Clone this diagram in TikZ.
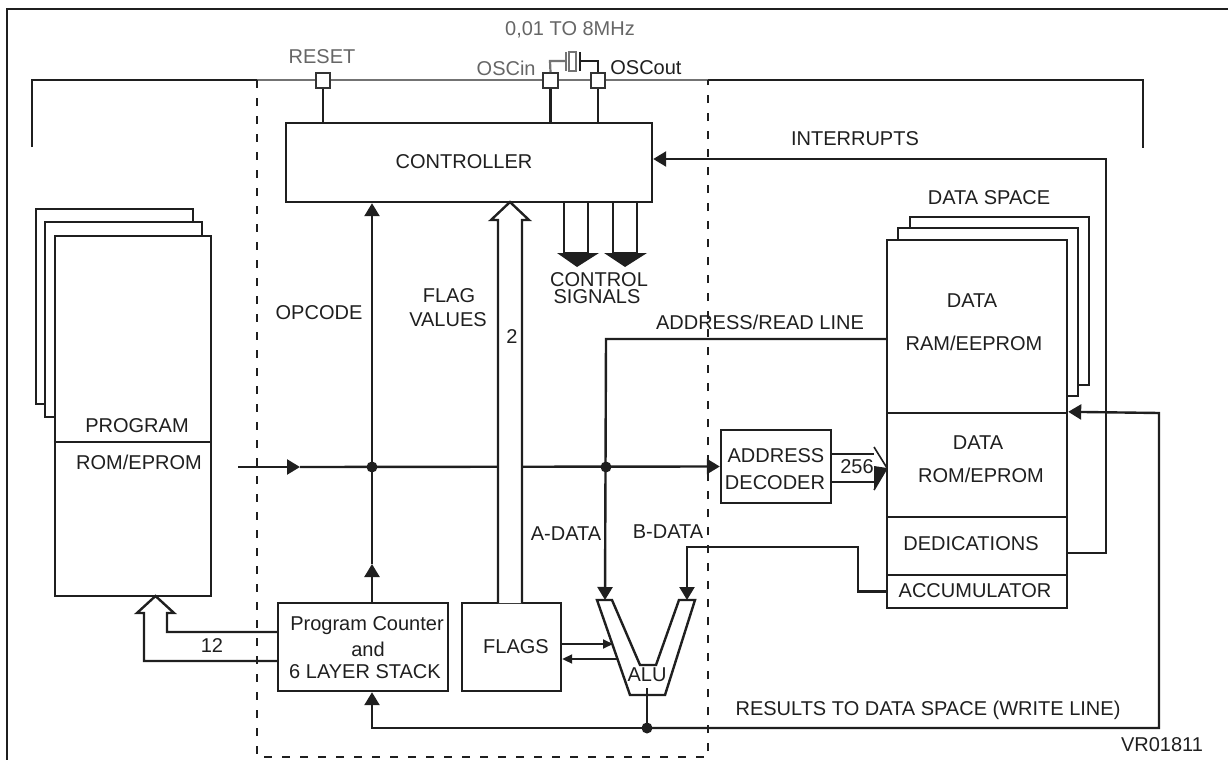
\documentclass[tikz,border=0pt]{standalone}
\usepackage{fontspec}
\setmainfont{Liberation Sans}
\usetikzlibrary{arrows.meta,fit,calc}
\begin{document}
\begin{tikzpicture}[x=0.5pt,y=-0.5pt,
  every node/.style={font=\fontsize{10}{11}\selectfont, inner sep=0pt, text=black!88},
  ln/.style={line width=1.2pt, draw=black!88},
  box/.style={draw=black!88, line width=1.2pt, fill=white, inner sep=0pt},
  sq/.style={draw=black!80, line width=1.1pt, fill=white, minimum size=7.2pt, inner sep=0pt},
  dashbox/.style={line width=1.3pt, draw=black!88, dash pattern=on 4pt off 5pt},
  tri/.style={-{Triangle[length=6.5pt,width=7.5pt]}},
  smalltri/.style={-{Triangle[length=5pt,width=4.5pt]}},
  dot/.style={circle, fill=black!88, minimum size=5.5pt, inner sep=0pt},
  greyln/.style={line width=1.1pt, draw=black!55},
  greytxt/.style={text=black!60},
]
\useasboundingbox (0,0) rectangle (1228,760);
% outer frame
\draw[ln] (7,775) -- (7,9) -- (1240,9);
% bracket line
\draw[ln] (32,147) -- (32,80) -- (257,80);
\draw[greyln] (257,80) -- (708,80);
\draw[ln] (708,80) -- (1143,80) -- (1143,148);
% dashed core box
\draw[dashbox] (257,80) -- (257,757) -- (708,757) -- (708,80);

% program memory stack
\node[box, fit={(36,209) (193,404)}] (pback) {};
\node[box, fit={(45,222) (202,417)}] (pmid) {};
\node[box, fit={(55,236) (211,596)}] (prog) {};
\draw[ln] (prog.west |- 0,442) -- (prog.east |- 0,442);
\node (ptxt1) at (137,426) {PROGRAM};
\node (ptxt2) at (139,462) {ROM/EPROM};

% controller
\node[box, fit={(286,123) (652,202)}] (ctrl) {};
\node (ctxt) at (464,162) {CONTROLLER};

% reset
\node[sq] (rst) at (323,80.5) {};
\draw[ln] (rst.south) -- (rst.south |- ctrl.north);
\node[greytxt] (rsttxt) at (322,57) {RESET};

% oscillator pins
\node[sq] (oscin) at (550.5,80.5) {};
\node[sq] (oscout) at (598,80.5) {};
\draw[ln] (oscin.south) -- (oscin.south |- ctrl.north);
\draw[ln] (oscout.south) -- (oscout.south |- ctrl.north);
% crystal
\draw[greyln] (oscin.north) -- (550,61) -- (565,61);
\draw[greyln] (566,52) -- (566,71);
\draw[greyln] (569,52) rectangle (576,71);
\draw[ln] (580,52) -- (580,71);
\draw[ln] (580,61) -- (598,61) -- (oscout.north);
\node[greytxt] (freq) at (570,30) {0,01 TO 8MHz};
\node[greytxt, anchor=east] (osci) at (536,68) {OSCin};
\node[anchor=west] (osco) at (610,68) {OSCout};

% data space stack
\node[box, fit={(910,217) (1089,385)}] (dback) {};
\node[box, fit={(898,228) (1078,396)}] (dmid) {};
\node[box, fit={(887,240) (1067,413)}] (ram) {};
\node[box, fit={(887,413) (1067,517)}] (rom) {};
\node[box, fit={(887,517) (1067,575)}] (ded) {};
\node[box, fit={(887,575) (1067,608)}] (acc) {};
\node (dstxt) at (989,198) {DATA SPACE};
\node (ramt1) at (972,301) {DATA};
\node (ramt2) at (974,343) {RAM/EEPROM};
\node (romt1) at (978,443) {DATA};
\node (romt2) at (981,475) {ROM/EPROM};
\node (dedt) at (971,544) {DEDICATIONS};
\node (acct) at (975,591) {ACCUMULATOR};

% interrupts
\draw[ln, tri] (ded.east |- 0,553) -- (1106,553) -- (1106,159) -- (ctrl.east |- 0,159);
\node (inttxt) at (855,139) {INTERRUPTS};

% control signals
\draw[ln, fill=white] (564,202) rectangle (588,253);
\fill[black!88] (557,253) -- (599,253) -- (577,267) -- cycle;
\draw[ln, fill=white] (613,202) rectangle (637,253);
\fill[black!88] (604,253) -- (647,253) -- (625,267) -- cycle;
\node (cs1) at (599,280) {CONTROL};
\node (cs2) at (597,297) {SIGNALS};

% lower boxes
\node[box, fit={(278,603) (448,691)}] (pc) {};
\node (pct1) at (367,626) {Program Counter};
\node (pct2) at (368,649) {and};
\node (pct3) at (365,672) {6 LAYER STACK};
\node[box, fit={(462,603) (561,691)}] (flags) {};
\node (flt) at (516,647) {FLAGS};
\node[box, fit={(721,430) (831,503)}] (adec) {};
\node (adt1) at (776,456) {ADDRESS};
\node (adt2) at (775,483) {DECODER};

% ALU
\draw[ln, fill=white] (597,600) -- (612,600) -- (640,665) -- (656,665) -- (679,600) -- (695,600) -- (665,695) -- (630,695) -- cycle;
\coordinate (alua) at (605,600);
\coordinate (alub) at (687,600);
\coordinate (aluo) at (647,688);
\node (alut) at (647,675) {ALU};

% main bus
\draw[ln, tri] (prog.east |- 0,467) ++(26,0) -- (300,467);
\draw[ln, tri] (300,467) -- (adec.west);
\node[dot] (d1) at (372,467) {};
\node[dot] (d2) at (606,467) {};

% opcode
\draw[ln, tri] (pc.north -| 372,0) -- (372,564);
\draw[ln, tri] (372,564) -- (ctrl.south -| 372,0);
\node (opc) at (319,313) {OPCODE};

% address/read line and A data
\draw[ln, tri] (ram.west |- 0,339) -- (606,339) -- (alua);
\node (adrl) at (760,322) {ADDRESS/READ LINE};
\node (adat) at (566,534) {A-DATA};

% B data
\draw[ln, tri] (acc.west) -- (858,591.5) -- (858,547) -- (687,547) -- (alub);
\node (bdat) at (668,532) {B-DATA};

% 256 bus
\draw[ln] (adec.east |- 0,454) -- (874,454);
\draw[ln] (adec.east |- 0,482) -- (874,482);
\draw[line width=0.8pt, draw=black!88] (874,447) -- (887,468) -- (874,490);
\fill[black!88] (874,466) -- (887,468) -- (874,490) -- cycle;
\node (n256) at (857,467) {256};

% flag values hollow arrow
\draw[ln, fill=white] (498,603) -- (498,220) -- (491,220) -- (510,202) -- (529,220) -- (522,220) -- (522,603);
\node (two) at (512,337) {2};
\node (fv1) at (449,296) {FLAG};
\node (fv2) at (448,320) {VALUES};

% flags <-> alu
\draw[line width=1pt, draw=black!88, smalltri] (flags.east |- 0,644) -- (613,644);
\draw[line width=1pt, draw=black!88, smalltri] (618,659) -- (flags.east |- 0,659);

% results
\draw[ln] (aluo) -- (647,728);
\node[dot] (d3) at (647,728) {};
\draw[ln, tri] (d3.center) -- (1159,728) -- (1159,413) -- (rom.north east);
\draw[ln, tri] (d3.center) -- (372,728) -- (pc.south -| 372,0);
\node (res) at (928,710) {RESULTS TO DATA SPACE (WRITE LINE)};

% 12 bus to program memory
\draw[ln] (pc.west |- 0,632) -- (167,632) -- (167,613) -- (174,613) -- (155.5,596) -- (137,613) -- (144,613) -- (144,661) -- (pc.west |- 0,661);
\node (n12) at (212,646) {12};

\node (vr) at (1162,745) {VR01811};
\end{tikzpicture}
\end{document}
